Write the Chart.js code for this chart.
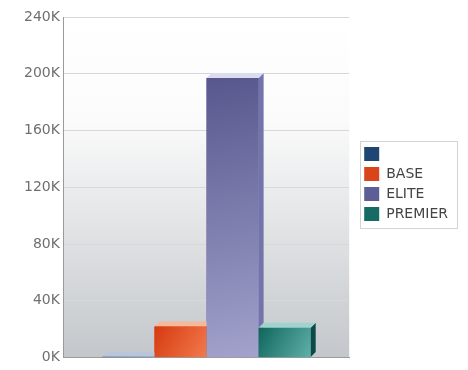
<!DOCTYPE html>
<html>
<head>
<meta charset="utf-8">
<script src="https://cdn.jsdelivr.net/npm/chart.js@4"></script>
<style>
  html, body { margin: 0; padding: 0; background: #fff; }
  #wrap { width: 468px; height: 370px; }
</style>
</head>
<body>
<div id="wrap"><canvas id="salesChart" width="468" height="370"></canvas></div>
<script>
// data
const categories = [''];
const seriesNames = ['', 'BASE', 'ELITE', 'PREMIER'];
const seriesValues = [600, 22000, 197000, 21000];
const tickValues = [0, 40000, 80000, 120000, 160000, 200000, 240000];

// front / top / side colours per series
const palette = [
    { base: '#1f4673', dark: '#2a5a92', light: '#5f86b8', top: '#b9c6da', side: '#6e86a8' },
    { base: '#d9441a', dark: '#d63a10', light: '#f27a4c', top: '#f4b89a', side: '#a93210' },
    { base: '#5e5e96', dark: '#57578e', light: '#a2a2cc', top: '#dcdcef', side: '#7474ac' },
    { base: '#166c64', dark: '#0f665d', light: '#5fb0a8', top: '#9fd3cd', side: '#0d4a44' }
];
const depth = 5;

// plot background, white at top fading to grey
const wallBg = {
    id: 'wallBg',
    beforeDraw(chart) {
        const { ctx, chartArea: a } = chart;
        const g = ctx.createLinearGradient(0, a.top, 0, a.bottom);
        g.addColorStop(0, '#ffffff');
        g.addColorStop(0.3, '#fbfbfb');
        g.addColorStop(1, '#c3c7cb');
        ctx.save();
        ctx.fillStyle = g;
        ctx.fillRect(a.left, a.top, a.right - a.left, a.bottom - a.top);
        ctx.restore();
    }
};

// fake 3d, left to right so each bar hides the side of the one before
const bar3d = {
    id: 'bar3d',
    afterDatasetsDraw(chart) {
        const ctx = chart.ctx;
        ctx.save();
        chart.data.datasets.forEach((ds, i) => {
            const p = palette[i];
            chart.getDatasetMeta(i).data.forEach(el => {
                const { x, y, base, width } = el.getProps(['x', 'y', 'base', 'width'], true);
                const l = x - width / 2, r = x + width / 2;
                // side
                ctx.fillStyle = p.side;
                ctx.beginPath();
                ctx.moveTo(r, y);
                ctx.lineTo(r + depth, y - depth);
                ctx.lineTo(r + depth, base - depth);
                ctx.lineTo(r, base);
                ctx.closePath();
                ctx.fill();
                // top
                ctx.fillStyle = p.top;
                ctx.beginPath();
                ctx.moveTo(l, y);
                ctx.lineTo(l + depth, y - depth);
                ctx.lineTo(r + depth, y - depth);
                ctx.lineTo(r, y);
                ctx.closePath();
                ctx.fill();
                // front
                const g = ctx.createLinearGradient(l, y, r, base);
                g.addColorStop(0, p.dark);
                g.addColorStop(1, p.light);
                ctx.fillStyle = g;
                ctx.fillRect(l, y, width, base - y);
            });
        });
        ctx.restore();
    }
};

// frame round the legend items
const legendFrame = {
    id: 'legendFrame',
    afterDraw(chart) {
        const boxes = chart.legend && chart.legend.legendHitBoxes;
        if (!boxes || !boxes.length) return;
        const left = Math.min(...boxes.map(b => b.left)) - 4;
        const top = Math.min(...boxes.map(b => b.top)) - 6;
        const right = 457;
        const bottom = Math.max(...boxes.map(b => b.top + b.height)) + 7;
        const ctx = chart.ctx;
        ctx.save();
        ctx.strokeStyle = '#d4d4d4';
        ctx.lineWidth = 1;
        ctx.strokeRect(Math.round(left) + 0.5, Math.round(top) + 0.5, Math.round(right - left), Math.round(bottom - top));
        ctx.restore();
    }
};

const ctx = document.getElementById('salesChart').getContext('2d');
const salesChart = new Chart(ctx, {
    type: 'bar',
    data: {
        labels: categories,
        datasets: seriesNames.map((name, i) => ({
            label: name,
            data: [seriesValues[i]],
            backgroundColor: palette[i].base,
            borderWidth: 0
        }))
    },
    options: {
        responsive: false,
        animation: false,
        devicePixelRatio: 1,
        layout: { padding: { top: 17, bottom: 4, left: 20, right: 10 } },
        datasets: {
            bar: { barPercentage: 1, categoryPercentage: 0.73 }
        },
        scales: {
            x: {
                grid: { display: false },
                ticks: { display: false },
                border: { color: '#9a9a9a', width: 1 }
            },
            y: {
                min: 0,
                max: 240000,
                afterBuildTicks: axis => { axis.ticks = tickValues.map(v => ({ value: v })); },
                ticks: {
                    callback: v => (v / 1000) + 'K',
                    color: '#6f6f6f',
                    font: { family: 'DejaVu Sans', size: 14 },
                    padding: 4
                },
                grid: { color: '#d6d8da', drawTicks: false },
                border: { color: '#9a9a9a', width: 1 }
            },
            // hidden spacer between the plot and the legend
            gap: {
                type: 'linear',
                position: 'right',
                display: false,
                afterFit: axis => { axis.width = 9; }
            }
        },
        plugins: {
            legend: {
                position: 'right',
                align: 'start',
                // blank title only pushes the items down to where they sit in the picture
                title: { display: true, text: ' ', font: { size: 10 }, padding: { top: 0, bottom: 112 } },
                labels: {
                    boxWidth: 15,
                    boxHeight: 14,
                    padding: 6,
                    color: '#444444',
                    font: { family: 'DejaVu Sans', size: 14 }
                }
            },
            tooltip: { enabled: false }
        }
    },
    plugins: [wallBg, bar3d, legendFrame]
});
</script>
</body>
</html>
